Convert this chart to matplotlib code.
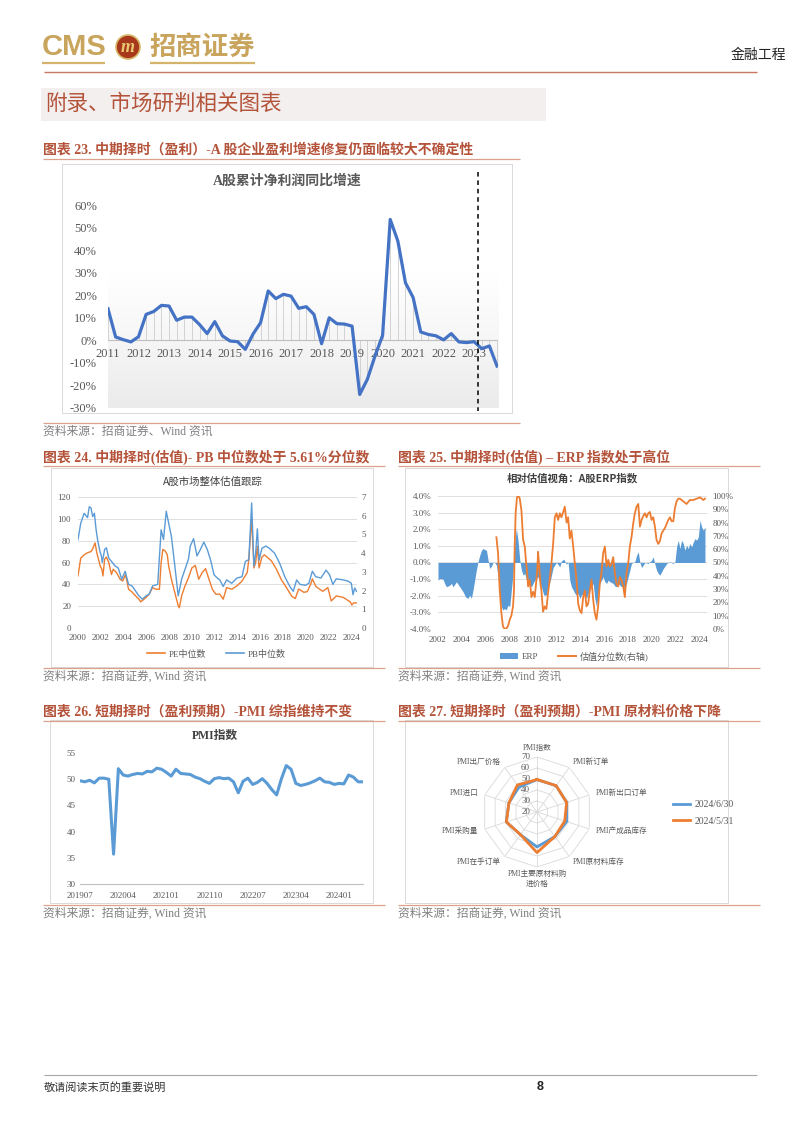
import numpy as np
import matplotlib
matplotlib.use('Agg')
import matplotlib.pyplot as plt
from matplotlib.patches import Rectangle, Circle, Patch
from matplotlib.lines import Line2D
from matplotlib.colors import LinearSegmentedColormap

# ---------------- data ----------------
# Chart 23: A-share cumulative net profit YoY growth (%), quarterly from 2011
profit_growth = [14.0, 1.5, 0.3, -0.7, 1.6, 11.5, 12.8, 15.5, 15.2, 8.9, 10.3, 10.3,
                 7.0, 3.0, 8.3, 2.0, -0.3, -0.6, -4.0, 2.7, 7.8, 21.9, 18.5, 20.4,
                 19.6, 14.2, 14.9, 11.5, -1.5, 10.0, 7.4, 7.2, 6.3, -24.0, -17.3, -7.0,
                 2.2, 53.6, 44.0, 25.5, 19.0, 3.7, 2.6, 2.0, 0.2, 3.0, -0.7, -1.0,
                 -0.6, -3.7, -2.5, -11.4]
profit_year_labels = ['2011', '2012', '2013', '2014', '2015', '2016', '2017',
                      '2018', '2019', '2020', '2021', '2022', '2023']
divider_quarter = 48.5
profit_yticks = [-30, -20, -10, 0, 10, 20, 30, 40, 50, 60]

# Chart 24: PE / PB median
pe_dates = [2000.00, 2000.24, 2000.54, 2000.84, 2001.14, 2001.29, 2001.50, 2001.65, 2001.95,
            2002.10, 2002.19, 2002.34, 2002.49, 2002.70, 2002.94, 2003.09, 2003.39, 2003.69,
            2003.93, 2004.17, 2004.44, 2004.74, 2005.05, 2005.35, 2005.50, 2005.80, 2005.98,
            2006.25, 2006.55, 2006.85, 2007.15, 2007.30, 2007.45, 2007.66, 2007.84, 2007.96,
            2008.20, 2008.50, 2008.80, 2008.90, 2009.10, 2009.40, 2009.70, 2010.00, 2010.30,
            2010.60, 2010.90, 2011.20, 2011.50, 2011.80, 2012.10, 2012.45, 2012.75, 2013.05,
            2013.50, 2013.96, 2014.40, 2014.86, 2015.00, 2015.25, 2015.45, 2015.60, 2015.75,
            2015.90, 2016.15, 2016.37, 2016.97, 2017.42, 2017.87, 2018.33, 2018.78, 2019.08,
            2019.38, 2019.83, 2020.13, 2020.43, 2020.58, 2020.89, 2021.49, 2021.94, 2022.24,
            2022.69, 2023.30, 2023.90, 2024.05, 2024.20, 2024.50]
pe_vals = [47.7, 64, 67, 69, 70, 72.6, 78, 69, 56.8,
           53.8, 47.7, 63, 65, 60, 49, 53.8, 50.7, 44.7,
           43, 49, 35.5, 33, 29.5, 26.4, 24, 26.4, 28,
           31, 37, 35.5, 35.5, 60, 72, 70.5, 67, 56.8,
           44.7, 32.5, 20.4, 18.5, 29.5, 38.6, 46, 55, 57.4,
           44.7, 50.7, 54.4, 44.7, 35.5, 31, 31, 26.4, 37,
           35.5, 38.6, 43, 50.7, 63, 100, 55, 60, 75,
           55, 65, 67, 61.7, 54, 44, 36.6, 29, 27,
           35.7, 32.7, 33.3, 40, 45, 38, 33.6, 37, 24.8,
           29.4, 28, 24, 21, 23, 23]
pb_dates = [2000.00, 2000.24, 2000.54, 2000.84, 2000.99, 2001.14, 2001.29, 2001.44, 2001.59,
            2001.74, 2001.95, 2002.04, 2002.13, 2002.34, 2002.49, 2002.70, 2002.94, 2003.24,
            2003.54, 2003.84, 2004.14, 2004.44, 2004.74, 2005.05, 2005.35, 2005.65, 2005.98,
            2006.25, 2006.55, 2007.00, 2007.30, 2007.51, 2007.75, 2007.96, 2008.20, 2008.50,
            2008.80, 2009.10, 2009.40, 2009.70, 2009.86, 2010.15, 2010.45, 2010.75, 2011.05,
            2011.35, 2011.65, 2011.95, 2012.25, 2012.45, 2012.75, 2013.05, 2013.50, 2013.96,
            2014.40, 2014.70, 2015.00, 2015.25, 2015.45, 2015.60, 2015.75, 2015.90, 2016.15,
            2016.50, 2016.80, 2017.26, 2017.70, 2018.16, 2018.60, 2018.90, 2019.20, 2019.50,
            2019.97, 2020.27, 2020.58, 2020.88, 2021.33, 2021.78, 2022.08, 2022.38, 2022.68,
            2023.30, 2023.73, 2024.00, 2024.15, 2024.30, 2024.45]
pb_vals = [4.73, 5.60, 6.13, 5.90, 6.48, 6.42, 5.95, 6.13, 5.25,
           4.64, 4.03, 3.90, 3.50, 4.20, 4.29, 3.73, 3.56, 3.33,
           3.20, 2.60, 3.03, 2.33, 2.25, 1.98, 1.72, 1.54, 1.72,
           1.81, 2.25, 2.33, 5.25, 4.73, 6.24, 5.60, 4.90, 3.33,
           1.72, 2.61, 3.14, 3.68, 4.38, 4.77, 3.85, 4.20, 4.59,
           4.20, 3.62, 2.84, 2.66, 2.57, 2.22, 2.57, 2.39, 2.67,
           2.74, 3.56, 3.65, 6.68, 3.30, 4.00, 5.30, 3.62, 4.26,
           4.38, 4.26, 4.00, 3.47, 2.74, 2.22, 1.96, 2.57, 2.33,
           2.28, 2.39, 3.03, 2.74, 2.67, 3.09, 2.86, 2.33, 2.63,
           2.57, 2.50, 2.39, 1.78, 2.14, 1.96]
val_years = list(range(2000, 2025, 2))

# Chart 25: ERP (%) and its percentile (%)
erp_dates = [2002.00, 2002.14, 2002.42, 2002.56, 2002.71, 2002.99, 2003.13, 2003.27, 2003.55,
             2003.83, 2004.11, 2004.31, 2004.53, 2004.67, 2004.81, 2004.95, 2005.23, 2005.37,
             2005.52, 2005.66, 2005.80, 2005.94, 2006.08, 2006.22, 2006.36, 2006.50, 2006.64,
             2006.77, 2006.92, 2007.06, 2007.20, 2007.34, 2007.47, 2007.61, 2007.75, 2007.89,
             2008.04, 2008.18, 2008.32, 2008.46, 2008.60, 2008.74, 2008.89, 2009.03, 2009.17,
             2009.31, 2009.45, 2009.59, 2009.87, 2010.15, 2010.43, 2010.71, 2010.91, 2011.13,
             2011.27, 2011.47, 2011.70, 2011.98, 2012.26, 2012.40, 2012.60, 2012.80, 2012.96,
             2013.10, 2013.24, 2013.39, 2013.53, 2013.67, 2013.81, 2013.95, 2014.09, 2014.23,
             2014.37, 2014.51, 2014.65, 2014.79, 2014.93, 2015.07, 2015.21, 2015.35, 2015.49,
             2015.63, 2015.77, 2015.91, 2016.06, 2016.20, 2016.34, 2016.48, 2016.76, 2016.90,
             2017.04, 2017.18, 2017.32, 2017.46, 2017.60, 2017.74, 2017.88, 2018.02, 2018.16,
             2018.30, 2018.44, 2018.58, 2018.73, 2018.87, 2019.01, 2019.15, 2019.29, 2019.43,
             2019.71, 2019.99, 2020.13, 2020.27, 2020.41, 2020.55, 2020.69, 2020.84, 2020.98,
             2021.12, 2021.26, 2021.54, 2021.82, 2021.96, 2022.10, 2022.24, 2022.38, 2022.52,
             2022.66, 2022.80, 2022.94, 2023.08, 2023.22, 2023.37, 2023.51, 2023.65, 2023.79,
             2023.93, 2024.07, 2024.21, 2024.35, 2024.49]
erp_vals = [-1.06, -0.96, -1.00, -1.26, -1.46, -1.36, -1.26, -1.46, -1.16,
            -1.46, -1.76, -2.06, -2.16, -1.96, -2.16, -1.66, -0.46, 0.04,
            0.44, 0.74, 0.84, 0.78, 0.74, 0.14, -0.36, -0.22, 0.00,
            0.00, -0.16, -0.86, -2.06, -2.66, -2.86, -2.76, -2.86, -2.56,
            -2.66, -1.66, -0.66, 1.14, 2.04, 1.34, 0.14, -0.46, -0.76,
            -0.66, -1.06, -1.26, -1.46, -1.06, -0.86, -1.46, -1.96, -1.96,
            -1.46, -1.06, -0.30, 0.00, -0.26, 0.10, 0.20, -0.10, 0.00,
            -1.06, -1.46, -1.66, -1.86, -1.96, -1.86, -2.16, -1.96, -1.86,
            -2.06, -2.16, -1.86, -1.66, -1.46, -1.26, -2.16, -2.66, -1.86,
            -1.26, -1.06, -0.86, -1.16, -1.26, -1.06, -1.16, -1.26, -1.42,
            -1.46, -1.26, -1.36, -1.46, -1.42, -1.56, -1.26, -0.86, -0.46,
            -0.06, 0.00, 0.04, 0.44, 0.64, 0.00, -0.30, -0.16, 0.00,
            -0.06, 0.14, 0.34, -0.10, -0.46, -0.66, -0.76, -0.56, -0.36,
            -0.22, -0.06, 0.04, -0.06, 0.04, 0.94, 1.34, 0.84, 1.34,
            1.14, 0.74, 1.04, 0.84, 1.14, 0.94, 1.24, 1.44, 1.34,
            1.54, 2.54, 2.14, 1.94, 2.14]
pct_dates = [2006.92, 2007.06, 2007.20, 2007.34, 2007.47, 2007.61, 2007.75, 2007.89, 2008.04,
             2008.18, 2008.32, 2008.40, 2008.46, 2008.54, 2008.65, 2008.79, 2008.89, 2009.03,
             2009.17, 2009.31, 2009.40, 2009.51, 2009.59, 2009.73, 2009.87, 2010.01, 2010.15,
             2010.29, 2010.38, 2010.43, 2010.52, 2010.63, 2010.71, 2010.85, 2010.99, 2011.13,
             2011.27, 2011.41, 2011.55, 2011.70, 2011.84, 2011.98, 2012.12, 2012.26, 2012.40,
             2012.55, 2012.68, 2012.83, 2012.96, 2013.10, 2013.24, 2013.39, 2013.53, 2013.67,
             2013.81, 2013.95, 2014.09, 2014.23, 2014.37, 2014.51, 2014.65, 2014.79, 2014.93,
             2015.07, 2015.21, 2015.35, 2015.49, 2015.63, 2015.77, 2015.91, 2016.06, 2016.20,
             2016.34, 2016.48, 2016.62, 2016.76, 2016.90, 2017.04, 2017.18, 2017.32, 2017.46,
             2017.60, 2017.74, 2017.88, 2018.02, 2018.16, 2018.30, 2018.44, 2018.58, 2018.73,
             2018.87, 2019.01, 2019.15, 2019.29, 2019.43, 2019.57, 2019.71, 2019.85, 2019.99,
             2020.13, 2020.27, 2020.41, 2020.55, 2020.69, 2020.84, 2020.98, 2021.12, 2021.26,
             2021.40, 2021.54, 2021.68, 2021.82, 2021.96, 2022.10, 2022.24, 2022.38, 2022.66,
             2022.94, 2023.22, 2023.51, 2023.79, 2024.07, 2024.35, 2024.49]
pct_vals = [69, 57, 29, 12, 2, 0, 0.5, 2, 7,
            10, 17, 29, 62, 87, 99, 100, 98, 89,
            67, 62, 52, 42, 32, 37, 24, 28, 24,
            37, 47, 58, 47, 34, 29, 13, 17, 15,
            27, 37, 49, 64, 84, 87, 82, 87, 84,
            88, 92, 80, 84, 68, 74, 62, 49, 37,
            19, 14, 12, 24, 29, 17, 19, 29, 37,
            22, 12, 7, 17, 34, 42, 57, 62, 47,
            52, 47, 49, 54, 42, 34, 32, 39, 37,
            32, 24, 42, 49, 62, 69, 79, 87, 92,
            94, 77, 82, 85, 87, 84, 87, 88, 82,
            84, 77, 67, 64, 66, 72, 74, 76, 79,
            82, 84, 81, 81, 91, 96, 98, 98, 96,
            94, 97, 97, 98, 99, 97, 98]
erp_years = list(range(2002, 2025, 2))

# Chart 26: PMI (monthly 2019-07 .. 2024-06)
pmi_vals = [49.7, 49.5, 49.8, 49.3, 50.2, 50.2,
            50.0, 35.7, 52.0, 50.8, 50.6, 50.9, 51.1, 51.0, 51.5, 51.4, 52.1, 51.9,
            51.3, 50.6, 51.9, 51.1, 51.0, 50.9, 50.4, 50.1, 49.6, 49.2, 50.1, 50.3,
            50.1, 50.2, 49.5, 47.4, 49.6, 50.2, 49.0, 49.4, 50.1, 49.2, 48.0, 47.0,
            50.1, 52.6, 51.9, 49.2, 48.8, 49.0, 49.3, 49.7, 50.2, 49.5, 49.4, 49.0,
            49.2, 49.1, 50.8, 50.4, 49.5, 49.5]
pmi_labels = ['201907', '202004', '202101', '202110', '202207', '202304', '202401']
pmi_yticks = [30, 35, 40, 45, 50, 55]

# Chart 27: PMI sub-indices radar
radar_cats = ['PMI指数', 'PMI新订单', 'PMI新出口订单', 'PMI产成品库存', 'PMI原材料库存',
              'PMI主要原材料购\n进价格', 'PMI在手订单', 'PMI采购量', 'PMI进口', 'PMI出厂价格']
radar_jun = [49.5, 49.5, 48.3, 48.3, 47.6, 51.8, 45.5, 49.3, 46.9, 47.9]
radar_may = [49.5, 49.6, 48.3, 46.5, 47.6, 56.9, 45.5, 49.3, 46.8, 50.4]
radar_series = ['2024/6/30', '2024/5/31']
radar_rings = [30, 40, 50, 60, 70]
radar_ticks = [20, 30, 40, 50, 60, 70]

# ---------------- style ----------------
W, H = 802, 1133
CJK = 'Noto Sans CJK SC'
SERIF = ['Liberation Serif', CJK]
plt.rcParams['font.family'] = [CJK, 'DejaVu Sans']
plt.rcParams['axes.unicode_minus'] = False

RED = '#B4533A'
GOLD = '#C9A45C'
LINE = '#DDA08C'
GRAY = '#595959'
FRAME = '#D9D9D9'
BLUE = '#5B9BD5'
ORANGE = '#ED7D31'

fig = plt.figure(figsize=(W / 100, H / 100), dpi=100)
page = fig.add_axes([0, 0, 1, 1])
page.set_xlim(0, W)
page.set_ylim(H, 0)
page.axis('off')


def ax_px(x0, y0, x1, y1, **kw):
    return fig.add_axes([x0 / W, 1 - y1 / H, (x1 - x0) / W, (y1 - y0) / H], **kw)


def hline(y, x0, x1, color, lw):
    page.plot([x0, x1], [y, y], color=color, lw=lw, solid_capstyle='butt')


def frame(x0, y0, x1, y1):
    page.add_patch(Rectangle((x0, y0), x1 - x0, y1 - y0, fill=False, ec=FRAME, lw=0.7))


# ---------------- page header ----------------
page.text(42, 47, 'CMS', fontsize=21, fontweight='bold', color=GOLD, family='Liberation Sans',
          ha='left', va='center')
page.add_patch(Circle((128, 47), 12, fc='#A8381C', ec='#D8B86A', lw=1.2))
page.text(128, 47.5, 'm', fontsize=13, fontweight='bold', style='italic', color='#E8C870',
          family='Liberation Serif', ha='center', va='center')
page.text(149, 47, '招商证券', fontsize=19, fontweight='bold', color=GOLD, ha='left', va='center')
hline(63, 42, 105, '#D4B46C', 1.6)
hline(63, 150, 255, '#D4B46C', 1.6)
page.text(786, 55, '金融工程', fontsize=10, color='#222222', ha='right', va='center')
hline(72, 44, 757, '#C8785E', 1.0)

page.add_patch(Rectangle((41, 88), 505, 33, fc='#F3EFEF', ec='none'))
page.text(45, 104, '附录、市场研判相关图表', fontsize=15.5, color=RED, ha='left', va='center')


def fig_title(x, y, s, x1):
    page.text(x, y, s, fontsize=10, fontweight='bold', color=RED, family=SERIF,
              ha='left', va='center')
    hline(y + 9, x, x1, LINE, 0.9)


def source(x, y, s, x1):
    hline(y - 9, x, x1, LINE, 0.9)
    page.text(x, y, s, fontsize=8.5, color='#808080', family=SERIF, ha='left', va='center')


# ---------------- chart 23 ----------------
fig_title(43, 150, '图表 23. 中期择时（盈利）-A 股企业盈利增速修复仍面临较大不确定性', 520)
frame(62, 164, 512, 413)
page.text(287, 181, 'A股累计净利润同比增速', fontsize=10, fontweight='bold', color=GRAY,
          family=SERIF, ha='center', va='center')
source(43, 432, '资料来源：招商证券、Wind 资讯', 520)

ax = ax_px(108, 205, 498, 408)
xq = np.arange(len(profit_growth))
xmax = len(profit_growth) - 1 + 0.13
grad = np.linspace(0, 1, 256).reshape(-1, 1)
cmap = LinearSegmentedColormap.from_list('g', ['#FFFFFF', '#FFFFFF', '#F6F6F6', '#EBEBEB'])
ax.imshow(grad, extent=[0, xmax, -30, 60], aspect='auto', cmap=cmap, origin='upper', zorder=0)
ax.vlines(xq, 0, profit_growth, color='#C4C4C4', lw=0.5, zorder=1)
ax.axhline(0, color='#BFBFBF', lw=0.8, zorder=1)
for i, lab in zip(range(0, len(profit_growth), 4), profit_year_labels):
    ax.text(i, -6.1, lab, fontsize=9, color=GRAY, family='Liberation Serif',
            ha='center', va='center', zorder=2)
ax.plot(xq, profit_growth, color='#4472C4', lw=2.3, zorder=3, solid_joinstyle='round')
ax.plot([divider_quarter, divider_quarter], [74.5, -31.5], color='black', lw=1.1,
        ls=(0, (3, 2.5)), clip_on=False, zorder=4)
ax.set_xlim(0, xmax)
ax.set_ylim(-30, 60)
ax.set_yticks(profit_yticks)
ax.set_yticklabels([f'{v}%' for v in profit_yticks], fontsize=9, color=GRAY,
                   family='Liberation Serif')
ax.tick_params(axis='y', length=0, pad=8)
ax.set_xticks([])
for s in ax.spines.values():
    s.set_visible(False)

# ---------------- chart 24 ----------------
fig_title(43, 457, '图表 24. 中期择时(估值)- PB 中位数处于 5.61%分位数', 385)
frame(51, 468, 373, 667)
page.text(213, 482, 'A股市场整体估值跟踪', fontsize=7.5, color='#404040', ha='center', va='center')
source(43, 677, '资料来源：招商证券, Wind 资讯', 385)

ax = ax_px(78, 497, 357, 628)
ax.set_xlim(2000, 2024.5)
ax.set_ylim(0, 120)
ax.plot(pe_dates, pe_vals, color=ORANGE, lw=1.0, zorder=3)
ax.set_yticks(range(0, 121, 20))
ax.yaxis.grid(True, color=FRAME, lw=0.6)
ax.set_axisbelow(True)
ax.set_xticks(val_years)
ax.set_xticklabels([str(y) for y in val_years], fontsize=6.5, color=GRAY, family='Liberation Serif')
ax.set_yticklabels([str(v) for v in range(0, 121, 20)], fontsize=6.5, color=GRAY,
                   family='Liberation Serif')
ax.tick_params(length=0)
ax.tick_params(axis='y', pad=5)
ax.tick_params(axis='x', pad=4)
for s in ax.spines.values():
    s.set_visible(False)
ax2 = ax.twinx()
ax2.set_ylim(0, 7)
ax2.plot(pb_dates, pb_vals, color=BLUE, lw=1.0, zorder=3)
ax2.set_yticks(range(0, 8))
ax2.set_yticklabels([str(v) for v in range(0, 8)], fontsize=6.5, color=GRAY,
                    family='Liberation Serif')
ax2.tick_params(length=0, pad=3)
for s in ax2.spines.values():
    s.set_visible(False)
fig.legend(handles=[Line2D([], [], color=ORANGE, lw=1.2, label='PE中位数'),
                    Line2D([], [], color=BLUE, lw=1.2, label='PB中位数')],
           loc='center', bbox_to_anchor=(216 / W, 1 - 654 / H), ncol=2, frameon=False,
           prop={'family': SERIF, 'size': 6.5}, handlelength=2.0, columnspacing=2.2,
           handletextpad=0.4, labelcolor=GRAY)

# ---------------- chart 25 ----------------
fig_title(398, 457, '图表 25. 中期择时(估值) – ERP 指数处于高位', 760)
frame(405, 468, 728, 667)
page.text(572, 478, '相对估值视角：A股ERP指数', fontsize=7.5, fontweight='bold', color='#404040',
          ha='center', va='center')
source(398, 677, '资料来源：招商证券, Wind 资讯', 760)

ax = ax_px(438, 496, 707, 629)
ax.set_xlim(2002, 2024.66)
ax.set_ylim(-4, 4)
ax.fill_between(erp_dates, erp_vals, 0, color=BLUE, lw=0, zorder=2)
ax.set_yticks(np.arange(-4, 5, 1))
ax.set_yticklabels([f'{v:.1f}%' for v in np.arange(-4, 5, 1)], fontsize=6.5, color=GRAY,
                   family='Liberation Serif')
ax.yaxis.grid(True, color=FRAME, lw=0.6)
ax.set_axisbelow(True)
ax.set_xticks(erp_years)
ax.set_xticklabels([str(y) for y in erp_years], fontsize=6.5, color=GRAY, family='Liberation Serif')
ax.tick_params(length=0)
ax.tick_params(axis='y', pad=5)
ax.tick_params(axis='x', pad=5)
for s in ax.spines.values():
    s.set_visible(False)
ax2 = ax.twinx()
ax2.set_ylim(0, 100)
ax2.plot(pct_dates, pct_vals, color=ORANGE, lw=1.3, zorder=3)
ax2.set_yticks(range(0, 101, 10))
ax2.set_yticklabels([f'{v}%' for v in range(0, 101, 10)], fontsize=6.5, color=GRAY,
                    family='Liberation Serif')
ax2.tick_params(length=0, pad=4)
for s in ax2.spines.values():
    s.set_visible(False)
fig.legend(handles=[Patch(facecolor=BLUE, label='ERP'),
                    Line2D([], [], color=ORANGE, lw=1.4, label='估值分位数(右轴)')],
           loc='center', bbox_to_anchor=(574 / W, 1 - 656 / H), ncol=2, frameon=False,
           prop={'family': SERIF, 'size': 6.5}, handlelength=2.0, columnspacing=2.2,
           handletextpad=0.4, labelcolor=GRAY)

# ---------------- chart 26 ----------------
fig_title(43, 712, '图表 26. 短期择时（盈利预期）-PMI 综指维持不变', 385)
frame(50, 720, 373, 903)
page.text(215, 736, 'PMI指数', fontsize=8.5, fontweight='bold', color='#404040',
          family=SERIF, ha='center', va='center')
source(43, 914, '资料来源：招商证券, Wind 资讯', 385)

ax = ax_px(80, 753, 363, 884)
xm = np.arange(len(pmi_vals))
ax.plot(xm, pmi_vals, color=BLUE, lw=2.2, solid_joinstyle='round')
ax.set_xlim(0, len(pmi_vals) - 1)
ax.set_ylim(30, 55)
ax.set_yticks(pmi_yticks)
ax.set_yticklabels([str(v) for v in pmi_yticks], fontsize=6.5, color=GRAY, family='Liberation Serif')
ax.set_xticks(xm[::9])
ax.set_xticklabels(pmi_labels, fontsize=6.5, color=GRAY, family='Liberation Serif')
ax.tick_params(length=0)
ax.tick_params(axis='y', pad=3)
ax.tick_params(axis='x', pad=6)
for k, s in ax.spines.items():
    s.set_visible(k == 'bottom')
ax.spines['bottom'].set_color('#BFBFBF')
ax.spines['bottom'].set_linewidth(0.8)

# ---------------- chart 27 ----------------
fig_title(398, 712, '图表 27. 短期择时（盈利预期）-PMI 原材料价格下降', 760)
frame(405, 720, 728, 903)
source(398, 914, '资料来源：招商证券, Wind 资讯', 760)

axr = ax_px(482, 757, 592, 867, projection='polar')
N = len(radar_cats)
theta = np.arange(N) * 2 * np.pi / N
tc = np.append(theta, theta[0])
axr.set_theta_zero_location('N')
axr.set_theta_direction(-1)
axr.grid(False)
axr.set_xticks([])
axr.set_yticks([])
axr.spines['polar'].set_visible(False)
axr.patch.set_alpha(0)
for r in radar_rings:
    axr.plot(tc, [r] * (N + 1), color=FRAME, lw=0.6, zorder=1)
for t in theta:
    axr.plot([t, t], [radar_ticks[0], radar_ticks[-1]], color=FRAME, lw=0.6, zorder=1)
axr.plot(tc, radar_jun + radar_jun[:1], color=BLUE, lw=2.0, zorder=3, label=radar_series[0])
axr.plot(tc, radar_may + radar_may[:1], color=ORANGE, lw=2.0, zorder=4, label=radar_series[1])
axr.set_ylim(radar_ticks[0], radar_ticks[-1])
for v in radar_ticks:
    axr.annotate(str(v), xy=(0, v), xytext=(-5, 0), textcoords='offset points',
                 fontsize=6.5, color=GRAY, family='Liberation Serif', ha='right', va='center',
                 annotation_clip=False)
for t, lab in zip(theta, radar_cats):
    deg = np.degrees(t)
    if deg < 1:
        axr.text(t, 78, lab, ha='center', va='center', fontsize=5.5, color=GRAY, family=SERIF)
    elif abs(deg - 180) < 1:
        axr.text(t, 73, lab, ha='center', va='top', fontsize=5.5, color=GRAY, family=SERIF,
                 linespacing=1.3)
    elif deg < 180:
        axr.text(t, 76, lab, ha='left', va='center', fontsize=5.5, color=GRAY, family=SERIF)
    else:
        axr.text(t, 76, lab, ha='right', va='center', fontsize=5.5, color=GRAY, family=SERIF)
fig.legend(handles=axr.get_lines()[-2:], loc='center left',
           bbox_to_anchor=(664 / W, 1 - 813 / H), frameon=False,
           prop={'family': 'Liberation Serif', 'size': 7}, handlelength=1.8, labelspacing=0.8,
           handletextpad=0.4, labelcolor=GRAY)

# ---------------- footer ----------------
hline(1075, 44, 757, '#A6A6A6', 0.8)
page.text(44, 1087, '敬请阅读末页的重要说明', fontsize=8, color='#333333', ha='left', va='center')
page.text(540, 1087, '8', fontsize=9, fontweight='bold', color='#222222', family='Liberation Sans',
          ha='center', va='center')

fig.savefig('out.png', dpi=100)
